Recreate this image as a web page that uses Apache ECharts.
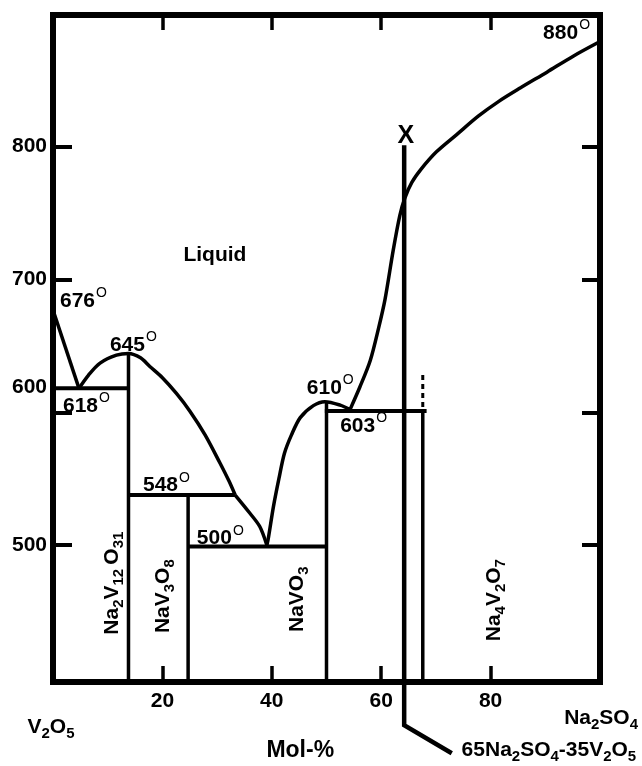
<!DOCTYPE html>
<html><head><meta charset="utf-8">
<script src="https://cdn.jsdelivr.net/npm/echarts@6/dist/echarts.min.js"></script>
<style>html,body{margin:0;padding:0;background:#fff}#c{width:642px;height:766px}</style>
</head><body><div id="c"></div>
<script>
const FONT = '"Liberation Sans", Arial, sans-serif';
// ticks
const xTicks = [20, 40, 60, 80];
const yTicks = [500, 600, 700, 800];
// liquidus curves (mol-% Na2SO4, °C)
const liquidusV2O5 = [[0, 677], [4.75, 618]];
const liquidusNa2V12O31 = [[4.75, 618], [6.5, 628], [8.6, 637], [11.6, 643], [13.8, 644.3], [16, 641], [17.7, 634.5], [20, 626], [22.6, 614], [25, 601], [27.8, 583], [30.5, 562], [32.2, 548], [33.3, 537.7]];
const liquidusNaV3O8 = [[33.3, 537.7], [36, 524], [37.8, 514], [39.1, 500]];
const liquidusNaVO3 = [[39.1, 500], [39.4, 506], [40.3, 529], [41.3, 550], [42.3, 569], [43.6, 583], [45.2, 596], [47.6, 605], [49.7, 608], [52.5, 605.4], [54.3, 602]];
const liquidusNa4V2O7 = [[54.3, 602], [56.1, 619], [58, 639], [59.5, 663], [60.7, 685], [62.2, 722], [63.4, 748], [64.3, 761], [65.6, 773], [67.3, 783], [70.1, 796], [73.8, 809], [77.8, 823], [81.5, 834], [85.4, 844], [90.3, 856], [95.1, 868], [100, 879]];
// invariant (horizontal) lines
const line618 = [[0, 618], [13.8, 618]];
const line548 = [[13.8, 537.7], [33.3, 537.7]];
const line500 = [[24.7, 499], [50, 499]];
const line603 = [[49.7, 601], [68.3, 601]];
// compound (vertical) lines
const vNa2V12O31 = [[13.8, 644.3], [13.8, 397]];
const vNaV3O8 = [[24.7, 537.7], [24.7, 397]];
const vNaVO3 = [[50, 608], [50, 397]];
const vNa4V2O7 = [[67.6, 601], [67.6, 397]];
const dashedNa4V2O7 = [[67.6, 604], [67.6, 629]];
// composition marker 65Na2SO4-35V2O5
const compositionLine = [[64.2, 801], [64.2, 364.5], [72.9, 343.4]];
// temperature annotations
const tempText = ['676', '618', '645', '610', '603', '548', '500', '880'];
const tempPos = [[1.28, 686], [1.83, 607], [10.4, 652.9], [46.4, 620.5], [52.5, 591.9], [16.45, 547.4], [26.3, 507.5], [89.6, 887.8]];
// phase labels (rotated)
const phaseText = ['{n|Na}{s|2}{n|V}{s|12 }{n|O}{s|31}', '{n|NaV}{s|3}{n|O}{s|8}', '{n|NaVO}{s|3}', '{n|Na}{s|4}{n|V}{s|2}{n|O}{s|7}'];
const phasePos = [[10.8, 471.4], [20.1, 461.6], [44.6, 459.3], [80.6, 458.6]];
// other texts
const otherText = ['{n|Liquid}', '{n|V}{s|2}{n|O}{s|5}', '{n|Na}{s|2}{n|SO}{s|4}', '{m|Mol-%}', '{x|X}'];
const otherPos = [[29.6, 718.4], [-0.37, 363], [100.2, 369.7], [45.2, 345.6], [64.5, 808]];
const compText = '{n|65Na}{s|2}{n|SO}{s|4}{n|-35V}{s|2}{n|O}{s|5}';
const compPos = [74.7, 345.6];

const T = {color: '#000', textBorderWidth: 0, textBorderColor: 'transparent', opacity: 1};
const rich = {
  n: Object.assign({fontFamily: FONT, fontSize: 21, fontWeight: 'bold', lineHeight: 21, verticalAlign: 'top'}, T),
  s: Object.assign({fontFamily: FONT, fontSize: 15, fontWeight: 'bold', lineHeight: 15, verticalAlign: 'top', padding: [10, 0, 0, 0]}, T),
  m: Object.assign({fontFamily: FONT, fontSize: 23, fontWeight: 'bold'}, T),
  x: Object.assign({fontFamily: FONT, fontSize: 25, fontWeight: 'bold'}, T)
};
const richDeg = {
  n: Object.assign({fontFamily: FONT, fontSize: 21, fontWeight: 'bold', lineHeight: 21, verticalAlign: 'top', padding: [6, 0, 0, 0]}, T),
  d: Object.assign({fontFamily: FONT, fontSize: 14, fontWeight: 'normal', lineHeight: 12, verticalAlign: 'top', padding: [2, 0, 0, 1]}, T)
};
const labelBase = {show: true, position: 'inside', color: '#000', opacity: 1, textBorderWidth: 0, textShadowBlur: 0};

const LW = 3.5;
function lineSeries(data, smooth, extra) {
  return Object.assign({
    type: 'line', data: data, smooth: smooth ? 0.3 : false, symbol: 'none', clip: false,
    lineStyle: {color: '#000', width: LW}, z: 3
  }, extra || {});
}
function textSeries(data, label) {
  return {
    type: 'scatter', symbolSize: 0, clip: false, silent: true, z: 5,
    itemStyle: {opacity: 1, color: '#000'},
    emphasis: {disabled: true},
    data: data,
    label: Object.assign({}, labelBase, label)
  };
}
function axisCommon() {
  return {
    axisLine: {show: true, onZero: false, lineStyle: {color: '#000', width: 6, cap: 'square'}},
    splitLine: {show: false}
  };
}

const option = {
  animation: false,
  backgroundColor: '#fff',
  grid: {left: 53, top: 15, right: 42, bottom: 84},
  xAxis: [
    Object.assign(axisCommon(), {type: 'value', min: 0, max: 100, interval: 20, position: 'bottom',
      axisTick: {show: true, inside: true, length: 16, lineStyle: {color: '#000', width: 3.5}, customValues: xTicks},
      axisLabel: {show: true, margin: 9, fontFamily: FONT, fontSize: 21, fontWeight: 'bold', color: '#000', customValues: xTicks}}),
    Object.assign(axisCommon(), {type: 'value', min: 0, max: 100, interval: 20, position: 'top',
      axisTick: {show: true, inside: true, length: 15, lineStyle: {color: '#000', width: 3.5}, customValues: xTicks},
      axisLabel: {show: false}})
  ],
  yAxis: [
    Object.assign(axisCommon(), {type: 'value', min: 397, max: 899, position: 'left',
      axisTick: {show: true, inside: true, length: 19, lineStyle: {color: '#000', width: 4}, customValues: yTicks},
      axisLabel: {show: true, margin: 6, color: '#000', customValues: yTicks,
        formatter: function (v) { return v === 600 ? '{up|' + v + '}' : '{n|' + v + '}'; },
        rich: {
          n: {fontFamily: FONT, fontSize: 21, fontWeight: 'bold', color: '#000'},
          up: {fontFamily: FONT, fontSize: 21, fontWeight: 'bold', color: '#000', padding: [0, 0, 50, 0]}
        }}}),
    Object.assign(axisCommon(), {type: 'value', min: 397, max: 899, position: 'right',
      axisTick: {show: true, inside: true, length: 18, lineStyle: {color: '#000', width: 4}, customValues: yTicks},
      axisLabel: {show: false}})
  ],
  series: [
    lineSeries(liquidusV2O5, false),
    lineSeries(liquidusNa2V12O31, true),
    lineSeries(liquidusNaV3O8, true),
    lineSeries(liquidusNaVO3, true),
    lineSeries(liquidusNa4V2O7, true),
    lineSeries(line618, false, {lineStyle: {color: '#000', width: 4}}),
    lineSeries(line548, false, {lineStyle: {color: '#000', width: 4}}),
    lineSeries(line500, false, {lineStyle: {color: '#000', width: 4}}),
    lineSeries(line603, false, {lineStyle: {color: '#000', width: 4}}),
    lineSeries(vNa2V12O31, false),
    lineSeries(vNaV3O8, false),
    lineSeries(vNaVO3, false),
    lineSeries(vNa4V2O7, false),
    lineSeries(dashedNa4V2O7, false, {lineStyle: {color: '#000', width: 3, type: [5, 4]}}),
    lineSeries(compositionLine, false, {lineStyle: {color: '#000', width: 4.5, join: 'miter'}, z: 4}),
    textSeries(tempPos.map((p, i) => ({value: p, name: tempText[i]})),
      {align: 'left', verticalAlign: 'middle', offset: [0, -3], formatter: p => '{n|' + p.name + '}{d|O}', rich: richDeg}),
    textSeries(phasePos.map((p, i) => ({value: p, name: phaseText[i]})),
      {rotate: 90, align: 'center', verticalAlign: 'middle', formatter: p => p.name, rich: rich}),
    textSeries(otherPos.map((p, i) => ({value: p, name: otherText[i]})),
      {align: 'center', verticalAlign: 'middle', formatter: p => p.name, rich: rich}),
    textSeries([{value: compPos, name: compText}],
      {align: 'left', verticalAlign: 'middle', formatter: p => p.name, rich: rich})
  ]
};
const chart = echarts.init(document.getElementById('c'), null, {renderer: 'canvas'});
chart.setOption(option);
</script>
</body></html>
